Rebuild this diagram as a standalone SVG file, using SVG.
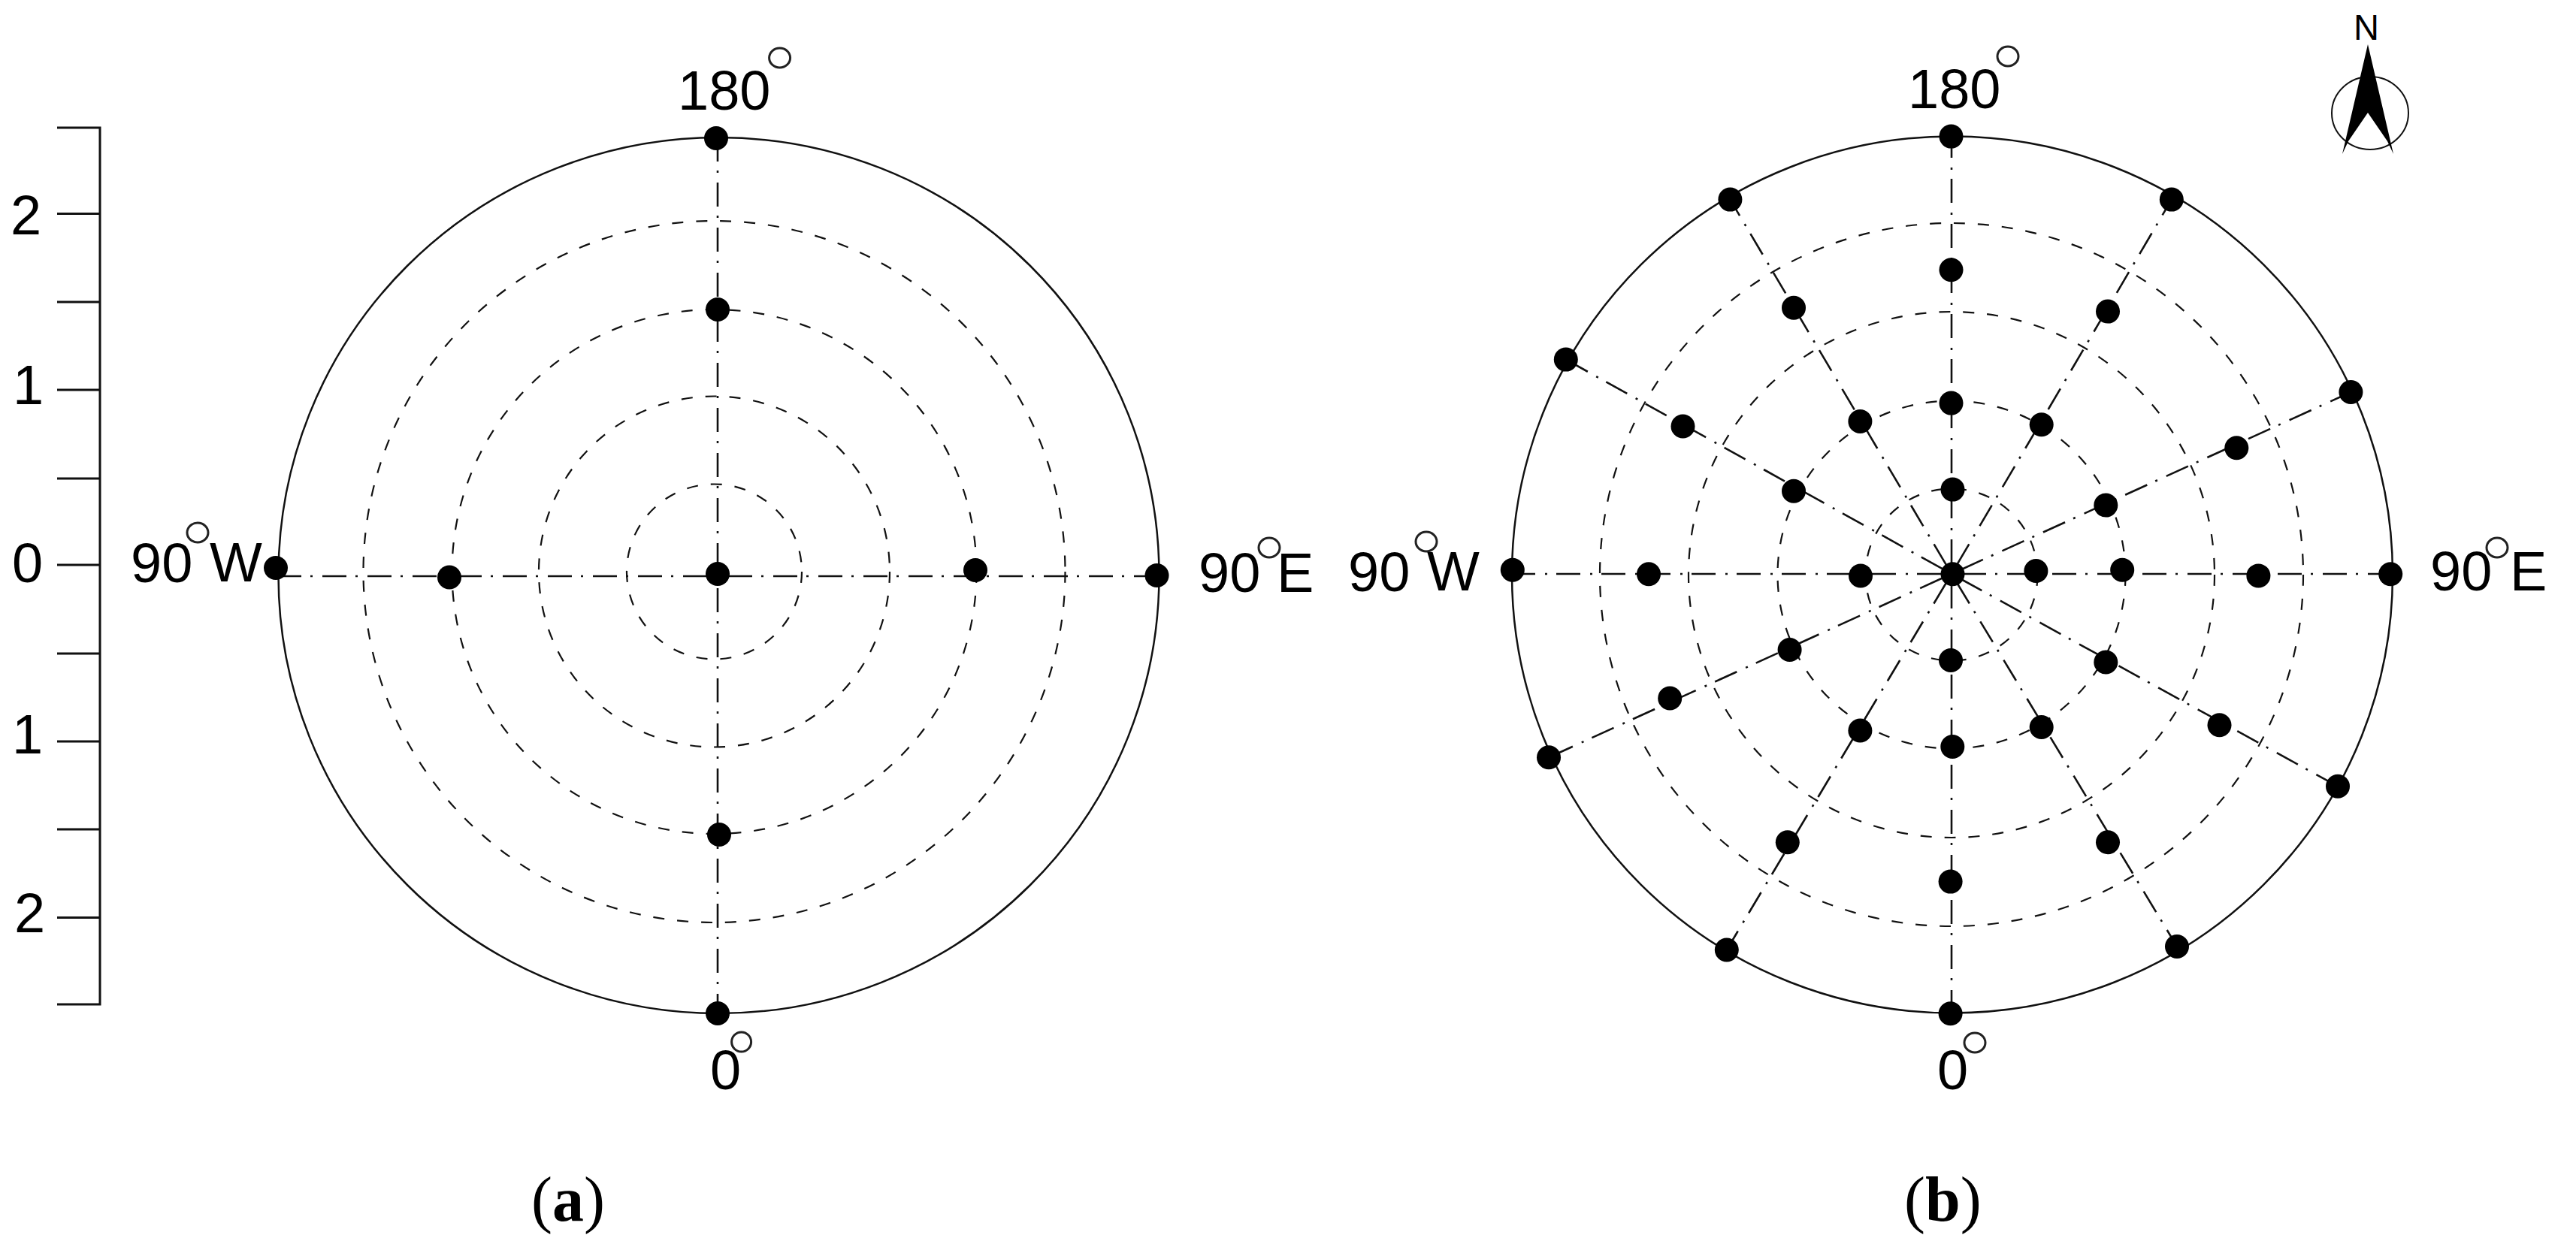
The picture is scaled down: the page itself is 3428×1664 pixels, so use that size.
<svg xmlns="http://www.w3.org/2000/svg" width="3428" height="1664" viewBox="0 0 3428 1664">
<style>
.t{font-family:"Liberation Sans",Arial,sans-serif;font-size:74px;fill:#000}
.c{font-family:"Liberation Serif","Times New Roman",serif;font-size:84px;fill:#000}
.c tspan{font-weight:700}
.o{fill:none;stroke:#111;stroke-width:2.5}
.r{fill:none;stroke:#111;stroke-width:2.2;stroke-dasharray:15 17}
.s{fill:none;stroke:#111;stroke-width:2.6;stroke-dasharray:32 12 3 13}
.a{fill:none;stroke:#111;stroke-width:3}
.g{fill:none;stroke:#222;stroke-width:3}
.d{fill:#000}
</style>
<rect width="3428" height="1664" fill="#fff"/>
<g id="scale">
<path class="a" d="M76 170H133V1337H76M76 284.500H133M76 402H133M76 519H133M76 637H133M76 752H133M76 870H133M76 987H133M76 1104H133M76 1221.500H133"/>
<text class="t" x="14" y="312">2</text>
<text class="t" x="17" y="538">1</text>
<text class="t" x="16" y="775">0</text>
<text class="t" x="16" y="1003">1</text>
<text class="t" x="19" y="1241">2</text>
</g>
<g id="plot-a">
<g id="plot-a-grid">
<ellipse class="o" cx="956.500" cy="766" rx="586" ry="583"/>
<circle class="r" cx="950.500" cy="761" r="116.500"/>
<circle class="r" cx="950.500" cy="761" r="233.500"/>
<circle class="r" cx="950.500" cy="761" r="349"/>
<circle class="r" cx="950.500" cy="761" r="467"/>
</g>
<g id="plot-a-connectors">
<line class="s" x1="369" y1="767" x2="1540" y2="767"/>
<line class="s" x1="955" y1="183" x2="955" y2="1349"/>
</g>
<g id="plot-a-points">
<circle class="d" cx="953" cy="184" r="16"/><circle class="d" cx="955" cy="412" r="16"/><circle class="d" cx="955" cy="764" r="16"/>
<circle class="d" cx="367" cy="756" r="16"/><circle class="d" cx="598" cy="768.500" r="16"/><circle class="d" cx="1298" cy="759" r="16"/>
<circle class="d" cx="1539.500" cy="766" r="16"/><circle class="d" cx="957" cy="1111" r="16"/><circle class="d" cx="955" cy="1349" r="16"/>
</g>
<text class="t" x="902" y="146">180</text><ellipse class="g" cx="1037.600" cy="77" rx="14" ry="13"/>
<text class="t" x="174" y="775">90</text><ellipse class="g" cx="263" cy="709" rx="14" ry="13"/><text class="t" x="279" y="774">W</text>
<text class="t" x="1595" y="788">90</text><ellipse class="g" cx="1689" cy="729" rx="14" ry="13"/><text class="t" x="1699" y="788">E</text>
<text class="t" x="945" y="1450">0</text><ellipse class="g" cx="986.600" cy="1387" rx="13" ry="13"/>
<text class="c" x="707" y="1625">(<tspan>a</tspan>)</text>
</g>
<g id="plot-b">
<g id="plot-b-grid">
<ellipse class="o" cx="2598" cy="765" rx="586" ry="583.500"/>
<circle class="r" cx="2597" cy="765" r="114.500"/>
<circle class="r" cx="2597" cy="765" r="231.500"/>
<circle class="r" cx="2597" cy="765" r="350"/>
<circle class="r" cx="2597" cy="765" r="468"/>
</g>
<g id="plot-b-connectors" stroke-dashoffset="-14">
<line class="s" x1="2597" y1="764" x2="2597" y2="181.600"/>
<line class="s" x1="2597" y1="764" x2="2302.400" y2="265.600"/>
<line class="s" x1="2597" y1="764" x2="2889.800" y2="265.600"/>
<line class="s" x1="2597" y1="764" x2="2083.800" y2="478.600"/>
<line class="s" x1="2597" y1="764" x2="3128.400" y2="522"/>
<line class="s" x1="2597" y1="764" x2="2012.800" y2="764"/>
<line class="s" x1="2597" y1="764" x2="3181.200" y2="764"/>
<line class="s" x1="2597" y1="764" x2="2061" y2="1008.300"/>
<line class="s" x1="2597" y1="764" x2="3111" y2="1046.800"/>
<line class="s" x1="2597" y1="764" x2="2297.800" y2="1264.500"/>
<line class="s" x1="2597" y1="764" x2="2897" y2="1260"/>
<line class="s" x1="2597" y1="764" x2="2597" y2="1349"/>
</g>
<g id="plot-b-points">
<circle class="d" cx="2596.500" cy="181.600" r="16"/><circle class="d" cx="2302.400" cy="265.600" r="16"/><circle class="d" cx="2889.800" cy="265.600" r="16"/>
<circle class="d" cx="2083.800" cy="478.600" r="16"/><circle class="d" cx="3128.400" cy="522" r="16"/><circle class="d" cx="2012.800" cy="758.800" r="16"/>
<circle class="d" cx="3181.200" cy="764.200" r="16"/><circle class="d" cx="2061" cy="1008.300" r="16"/><circle class="d" cx="3111" cy="1046.800" r="16"/>
<circle class="d" cx="2297.800" cy="1264.500" r="16"/><circle class="d" cx="2897" cy="1260" r="16"/><circle class="d" cx="2595.600" cy="1349.300" r="16"/>
<circle class="d" cx="2596.500" cy="359.300" r="16"/><circle class="d" cx="2387" cy="409.800" r="16"/><circle class="d" cx="2805" cy="414.600" r="16"/>
<circle class="d" cx="2239.500" cy="567.500" r="16"/><circle class="d" cx="2976.300" cy="596.200" r="16"/><circle class="d" cx="2475.400" cy="561" r="16"/>
<circle class="d" cx="2596.500" cy="536.600" r="16"/><circle class="d" cx="2716.700" cy="565.300" r="16"/><circle class="d" cx="2387" cy="653.700" r="16"/>
<circle class="d" cx="2598.500" cy="651.600" r="16"/><circle class="d" cx="2802.300" cy="672.600" r="16"/><circle class="d" cx="2194" cy="764.200" r="16"/>
<circle class="d" cx="2476" cy="766.500" r="16"/><circle class="d" cx="2598.500" cy="764.200" r="16"/><circle class="d" cx="2709.400" cy="760" r="16"/>
<circle class="d" cx="2824.200" cy="758.800" r="16"/><circle class="d" cx="3005.400" cy="766.400" r="16"/><circle class="d" cx="2381.600" cy="865" r="16"/>
<circle class="d" cx="2596" cy="879" r="16"/><circle class="d" cx="2802.300" cy="881.500" r="16"/><circle class="d" cx="2222.200" cy="929.500" r="16"/>
<circle class="d" cx="2475.400" cy="972.500" r="16"/><circle class="d" cx="2716.700" cy="968" r="16"/><circle class="d" cx="2953.500" cy="965.300" r="16"/>
<circle class="d" cx="2598.300" cy="994" r="16"/><circle class="d" cx="2378.800" cy="1121.200" r="16"/><circle class="d" cx="2805" cy="1121.200" r="16"/>
<circle class="d" cx="2595.600" cy="1173.600" r="16"/>
</g>
<text class="t" x="2539" y="144">180</text><ellipse class="g" cx="2672" cy="75" rx="14" ry="13"/>
<text class="t" x="1794" y="787">90</text><ellipse class="g" cx="1898" cy="721" rx="14" ry="13"/><text class="t" x="1899" y="786">W</text>
<text class="t" x="3234" y="786">90</text><ellipse class="g" cx="3323" cy="729" rx="14" ry="13"/><text class="t" x="3340" y="786">E</text>
<text class="t" x="2578" y="1450">0</text><ellipse class="g" cx="2628" cy="1388" rx="14" ry="13"/>
<text class="c" x="2534" y="1625">(<tspan>b</tspan>)</text>
</g>
<g id="north-arrow">
<ellipse fill="none" stroke="#111" stroke-width="2" cx="3154" cy="150.500" rx="51" ry="48.500"/>
<path class="d" d="M3151 59L3185 205L3177 188L3151 150L3125 188L3117 205Z"/>
<text font-family="Liberation Sans, Arial, sans-serif" font-size="48" x="3132" y="53" textLength="34" lengthAdjust="spacingAndGlyphs">N</text>
</g>
</svg>
